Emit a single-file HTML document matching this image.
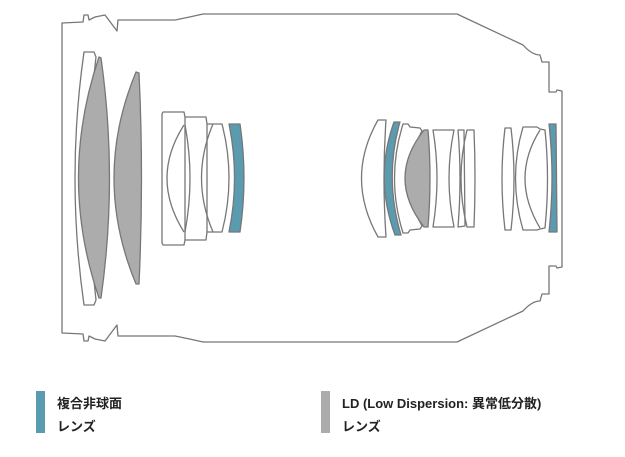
<!DOCTYPE html>
<html><head><meta charset="utf-8"><style>
html,body{margin:0;padding:0;background:#fff;}
body{width:625px;height:457px;position:relative;overflow:hidden;font-family:"Liberation Sans","Noto Sans CJK JP",sans-serif;}
.t{position:absolute;font-size:13px;font-weight:bold;color:#222;line-height:16px;}
.bar{position:absolute;width:9px;}
</style></head><body>
<svg width="625" height="457" style="position:absolute;left:0;top:0" fill="none" stroke="#777" stroke-width="1.3" stroke-linejoin="round">
<path d="M62,23 L83,22 L84,15 L88,15 L89,20 L95,17 L105,15 L117,31 L118,20 L175,20 Q190,17 203,14 L457,14 L523,45 Q532,55 540,55 L542,62 L549,62 L549,92 L556,92 L557,90 L562,91 L562,267 L557,268 L556,266 L549,266 L549,294 L542,294 L540,301 Q532,301 523,311 L457,342 L203,342 Q190,339 175,336 L118,336 L117,325 L105,341 L95,339 L89,336 L88,341 L84,341 L83,334 L62,333 Z"/>
<path d="M84,52 L94,52 L96,57 Q82,178 96,300 L94,305 L84,305 Q66,178 84,52 Z"/>
<path d="M99,57 L101,58 Q118,178 101,298 L99,298 Q58,178 99,57 Z" fill="#acacac"/>
<path d="M136,72 L139,73 Q144,178 139,284 L136,284 Q92,178 136,72 Z" fill="#acacac"/>
<path d="M163,112 L184,112 L185,117 L206,117 L207,124 L222,124 Q236,178 222,232 L207,232 L206,240 L185,240 L184,245 L163,245 L162,243 L162,114 Z"/>
<line x1="185" y1="117" x2="185" y2="240"/>
<line x1="207" y1="124" x2="207" y2="232"/>
<path d="M184,125 Q150,178 184,232"/>
<path d="M185,125 Q195,178 185,232"/>
<path d="M213,124 Q190,178 213,232"/>
<path d="M229,124 L240,124 Q248,178 240,232 L229,232 Q240,178 229,124 Z" fill="#5b9bb0"/>
<path d="M378,120 L386,120 Q382,178 386,237 L378,237 Q345,178 378,120 Z"/>
<path d="M394,122 L400,122 Q384,178 401,235 L395,235 Q374,178 394,122 Z" fill="#5b9bb0"/>
<path d="M403,124 L408,124 L410,127 L420,128 L422,131 Q396,178 422,226 L420,229 L410,230 L408,233 L403,233 Q386,178 403,124 Z"/>
<path d="M424,130 L428,130 Q432,178 428,227 L424,227 Q386,178 424,130 Z" fill="#acacac"/>
<path d="M433,130 L454,130 Q444,178 454,227 L433,227 Q441,178 433,130 Z"/>
<path d="M458,130 L464,130 L465,226 L458,227 Q462,178 458,130 Z"/>
<path d="M467,130 L474,130 Q476,178 474,227 L467,227 Q455,178 467,130 Z"/>
<path d="M505,128 L511,128 Q517,178 511,230 L505,230 Q499,178 505,128 Z"/>
<path d="M523,127 L537,127 L540,129 L545,130 Q550,178 545,228 L540,229 L537,230 L523,230 Q508,178 523,127 Z"/>
<path d="M540,130 Q510,178 540,228"/>
<path d="M549,124 L556,124 L557,232 L549,232 Q555,178 549,124 Z" fill="#5b9bb0"/>
</svg>
<div class="bar" style="left:36px;top:391px;height:42px;background:#5b9bb0"></div>
<div class="t" style="left:57px;top:396px">複合非球面</div>
<div class="t" style="left:57px;top:419px">レンズ</div>
<div class="bar" style="left:321px;top:391px;height:42px;background:#acacac"></div>
<div class="t" style="left:342px;top:396px">LD (Low Dispersion: 異常低分散)</div>
<div class="t" style="left:342px;top:419px">レンズ</div>
</body></html>
